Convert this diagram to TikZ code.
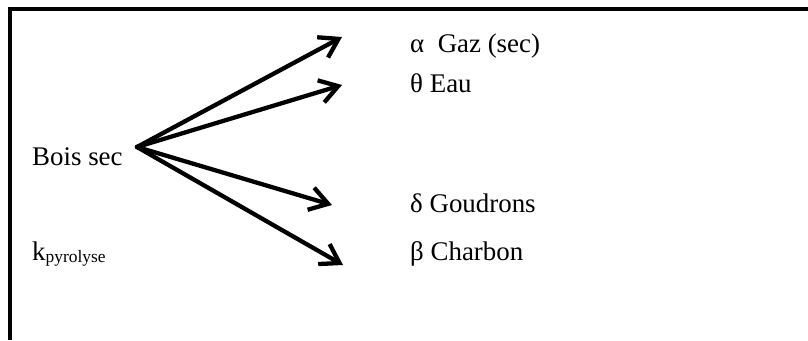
\documentclass[tikz,border=0pt]{standalone}
\usepackage{fontspec}
\setmainfont{Liberation Serif}
\usetikzlibrary{arrows.meta}

\begin{document}
\begin{tikzpicture}[x=1bp,y=-1bp,>={Straight Barb[length=18bp,width=23bp]},
 lbl/.style={anchor=base west,inner sep=0pt,font=\fontsize{27}{31}\selectfont},
 arr/.style={->,line width=4.3bp,line cap=round,line join=round},
 frame/.style={line width=4bp}]
\useasboundingbox (0,0) rectangle (808,340);
\draw[frame] (9.5,340) -- (9.5,9) -- (808,9);
\node[lbl] (bois) at (32,165) {Bois sec};
\node[lbl] (kpyr) at (32,260) {k\raisebox{-2bp}{\fontsize{17.5}{20}\selectfont pyrolyse}};
\node[lbl] (gaz) at (410,52) {α\ \ Gaz (sec)};
\node[lbl] (eau) at (410,92) {θ Eau};
\node[lbl] (goud) at (410,212) {δ Goudrons};
\node[lbl] (charb) at (410,260) {β Charbon};
\coordinate (src) at (137,147);
\coordinate (tgaz) at (342,37);\coordinate (teau) at (342,85);
\coordinate (tgoud) at (332,205);\coordinate (tcharb) at (343,265);
\draw[arr] (src)--(tgaz);\draw[arr] (src)--(teau);
\draw[arr] (src)--(tgoud);\draw[arr] (src)--(tcharb);
\end{tikzpicture}
\end{document}
